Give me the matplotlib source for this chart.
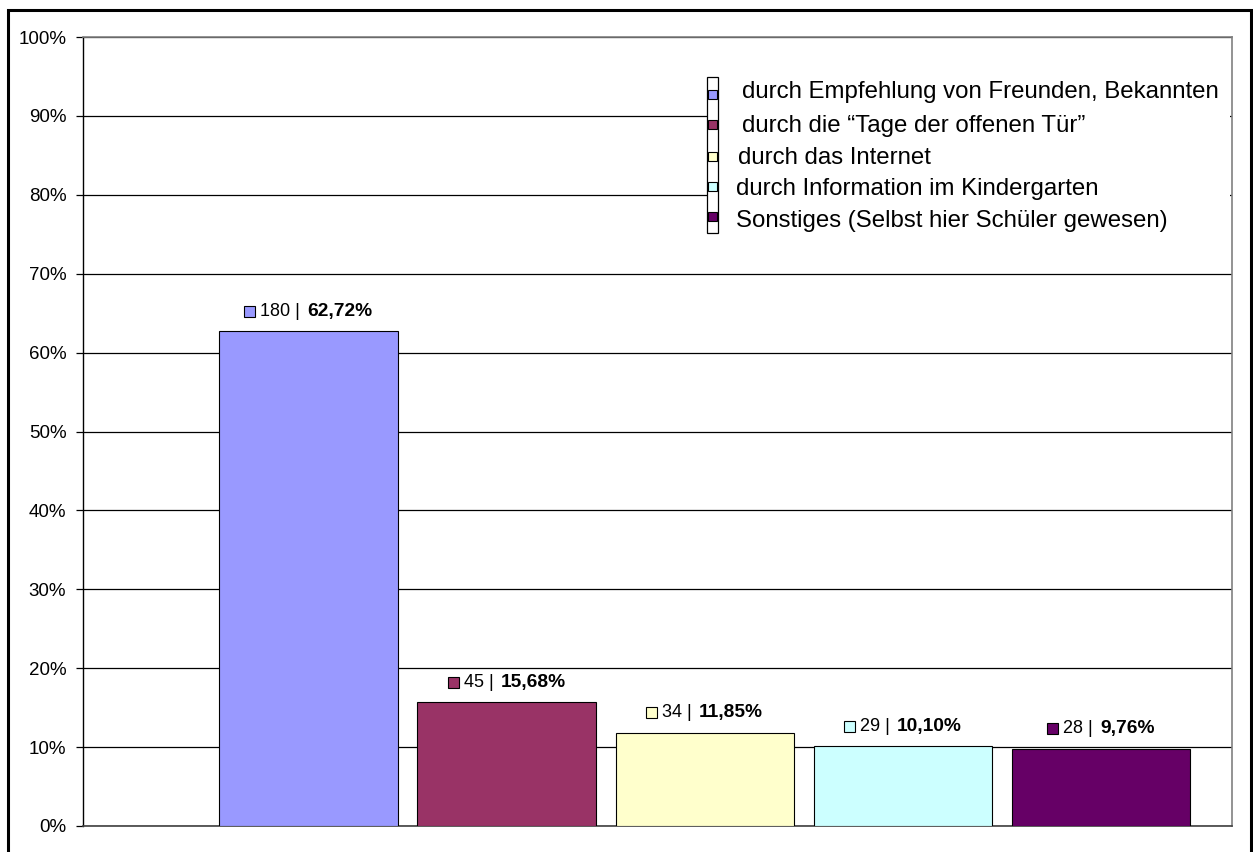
import matplotlib
matplotlib.use('Agg')
import matplotlib.pyplot as plt
from matplotlib.patches import Rectangle
from matplotlib.transforms import IdentityTransform
import numpy as np

plt.rcParams['font.family'] = ['Liberation Sans', 'DejaVu Sans']

# ---- data ----
categories = [
    'durch Empfehlung von Freunden, Bekannten',
    'durch die \u201cTage der offenen T\u00fcr\u201d',
    'durch das Internet',
    'durch Information im Kindergarten',
    'Sonstiges (Selbst hier Sch\u00fcler gewesen)',
]
counts = [180, 45, 34, 29, 28]
percents = [62.72, 15.68, 11.85, 10.10, 9.76]
pct_labels = ['62,72%', '15,68%', '11,85%', '10,10%', '9,76%']
colors = ['#9999FF', '#993366', '#FFFFCC', '#CCFFFF', '#660066']
yticks = list(range(0, 101, 10))
ytick_labels = [f'{v}%' for v in yticks]

W, H = 1253, 852
fig = plt.figure(figsize=(W / 100, H / 100), dpi=100)
fig.patch.set_facecolor('white')


def fx(px):
    return px / W


def fy(py):
    return 1 - py / H


def disp(px, py):
    # image pixel (top-left origin) -> display coords
    return px, H - py


ax = fig.add_axes([fx(83), fy(826), fx(1232) - fx(83), fy(37) - fy(826)])
x = np.arange(len(percents))
ax.bar(x, percents, width=0.9, color=colors, edgecolor='black',
       linewidth=0.8, zorder=3)
ax.set_xlim(-1.138, 4.662)
ax.set_ylim(0, 100)
ax.set_yticks(yticks)
ax.set_yticklabels(ytick_labels)
ax.set_xticks([])
ax.yaxis.grid(True, color='black', linewidth=0.9, zorder=0)
ax.set_axisbelow(True)
ax.tick_params(axis='y', direction='out', length=5, width=0.9, pad=7,
               labelsize=13.5, colors='black')
for side in ['top', 'right']:
    ax.spines[side].set_color('#808080')
    ax.spines[side].set_linewidth(1.2)
ax.spines['left'].set_color('black')
ax.spines['left'].set_linewidth(1.0)
ax.spines['bottom'].set_color('#404040')
ax.spines['bottom'].set_linewidth(1.2)

# ---- data labels ----
fig.canvas.draw()
renderer = fig.canvas.get_renderer()
msize = 11
for i in range(len(percents)):
    cx = ax.transData.transform((x[i], 0))[0]
    top = ax.transData.transform((0, percents[i]))[1]
    cy = top + 20
    t1 = fig.text(0, 0, f'{counts[i]} |', fontsize=13, ha='left', va='center',
                  transform=IdentityTransform(), color='black')
    t2 = fig.text(0, 0, pct_labels[i], fontsize=13.8, fontweight='bold',
                  ha='left', va='center', transform=IdentityTransform(),
                  color='black')
    w1 = t1.get_window_extent(renderer).width
    w2 = t2.get_window_extent(renderer).width
    g1, g2 = 5, 7
    total = msize + g1 + w1 + g2 + w2
    x0 = cx - total / 2
    fig.patches.append(Rectangle((x0, cy - msize / 2), msize, msize,
                                 facecolor=colors[i], edgecolor='black',
                                 linewidth=0.8, transform=IdentityTransform()))
    t1.set_position((x0 + msize + g1, cy))
    t2.set_position((x0 + msize + g1 + w1 + g2, cy))

# ---- legend (manual, as in the reference) ----
bx0, bx1, by0, by1 = 707, 718, 77, 233
wx, wy = disp(bx0, by1)
# white background of the legend text covering the gridlines
fig.patches.append(Rectangle((wx, wy), 1230 - bx0, by1 - by0,
                             facecolor='white', edgecolor='none',
                             transform=IdentityTransform(), zorder=1))
fig.patches.append(Rectangle((wx, wy), bx1 - bx0, by1 - by0, facecolor='none',
                             edgecolor='black', linewidth=0.9,
                             transform=IdentityTransform(), zorder=2))
marker_y = [94, 124, 156, 186, 216]
text_y = [92, 126, 158, 189, 221]
text_x = [742, 742, 738, 736, 736]
lm = 9
for i, cat in enumerate(categories):
    mx, my = disp(712.5, marker_y[i])
    fig.patches.append(Rectangle((mx - lm / 2, my - lm / 2), lm, lm,
                                 facecolor=colors[i], edgecolor='black',
                                 linewidth=0.8, transform=IdentityTransform(),
                                 zorder=3))
    tx, ty = disp(text_x[i], text_y[i])
    fig.text(tx, ty, cat, fontsize=17.3, ha='left', va='center',
             transform=IdentityTransform(), color='black', zorder=3)

# ---- outer frame ----
fx0, fy0 = disp(7.5, 950)
fig.patches.append(Rectangle((fx0, fy0), 1250.5 - 7.5, 950 - 9.5,
                             facecolor='none', edgecolor='black',
                             linewidth=2.2, transform=IdentityTransform()))

fig.savefig('out.png', dpi=100)
